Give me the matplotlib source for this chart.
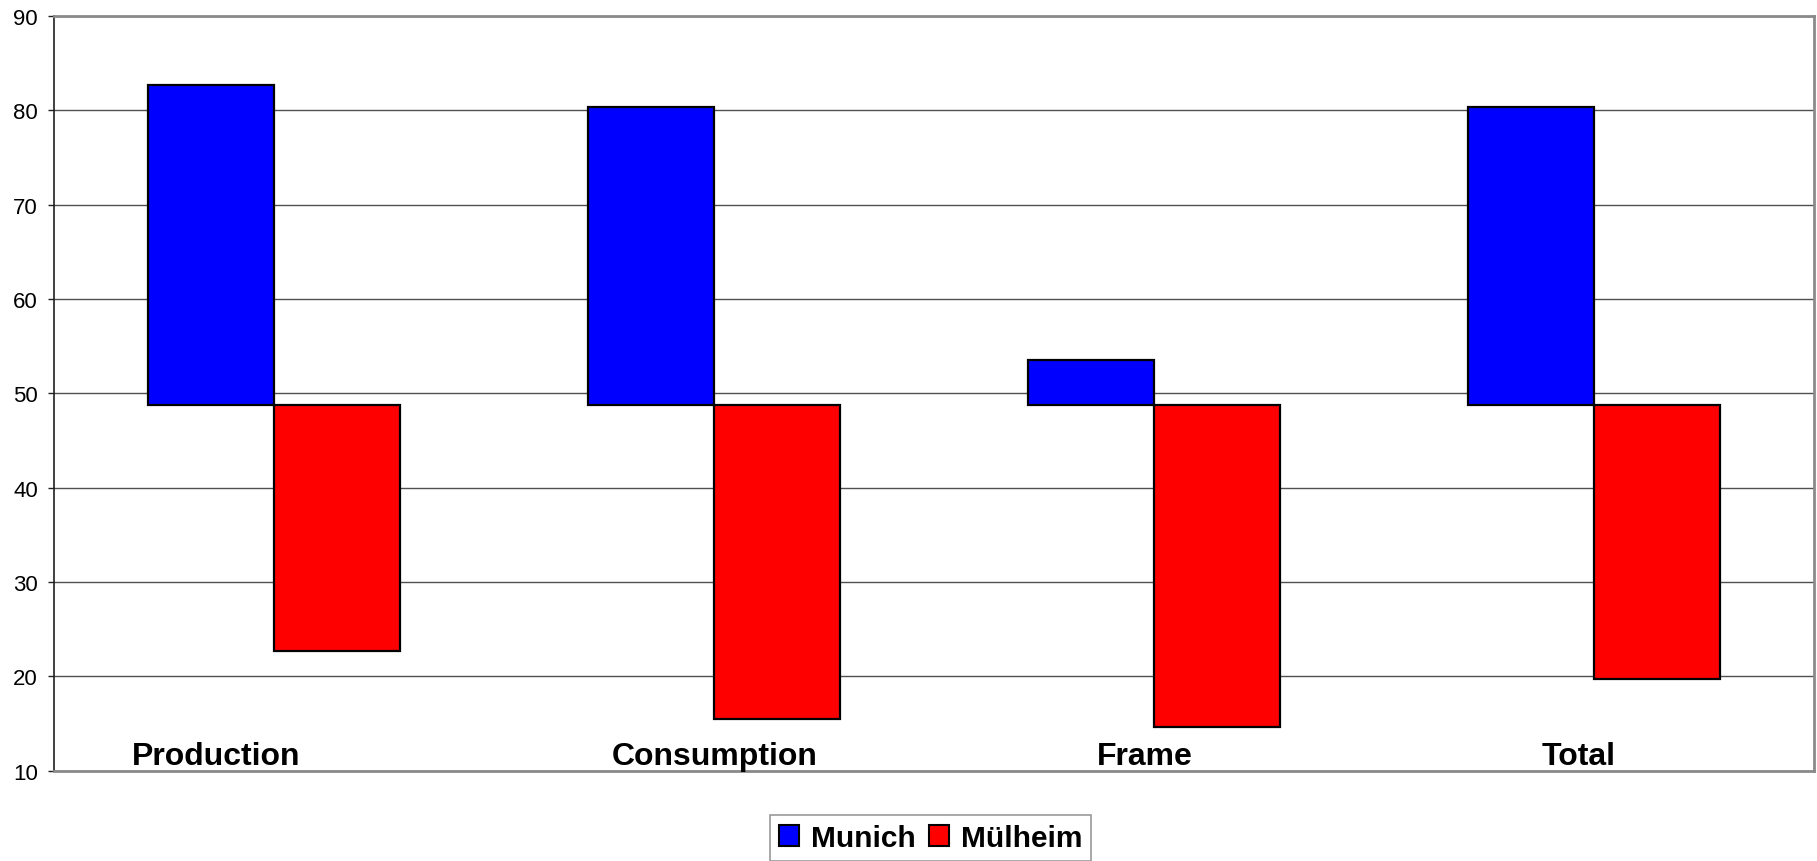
import matplotlib
matplotlib.use("Agg")
import matplotlib.pyplot as plt
import matplotlib.patches as patches
import numpy as np

categories = ["Production", "Consumption", "Frame", "Total"]
baseline = 48.8
munich = [82.7, 80.4, 53.5, 80.4]
muelheim = [22.7, 15.5, 14.6, 19.7]

# where the category names sit along x (in category units, relative to each slot)
label_shift = [-0.131, 0.001, -0.02, -0.036]

plt.rcParams['font.family'] = ['Liberation Sans', 'DejaVu Sans']

fig = plt.figure(figsize=(18.17, 8.62), dpi=100)
ax = fig.add_axes([0.0297, 0.1048, 0.9687, 0.8755])

x = np.arange(len(categories))
w = 1 / 3.5

ax.bar(x - w / 2, np.array(munich) - baseline, width=w, bottom=baseline,
       color="#0000FF", edgecolor="black", linewidth=1.6, zorder=3)
ax.bar(x + w / 2, np.array(muelheim) - baseline, width=w, bottom=baseline,
       color="#FF0000", edgecolor="black", linewidth=1.6, zorder=3)

ax.set_xlim(-0.5, 3.5)
ax.set_ylim(10, 90)
ax.set_yticks(range(10, 91, 10))
ax.set_xticks([])
ax.yaxis.grid(True, color="#505050", linewidth=1.0, zorder=0)
ax.set_axisbelow(True)

ax.tick_params(axis="y", direction="out", length=4.5, width=1.0, color="#202020",
               labelsize=16, pad=7)

for side in ["top", "right", "bottom"]:
    ax.spines[side].set_color("#8a8a8a")
    ax.spines[side].set_linewidth(2.0)
ax.spines["left"].set_color("#202020")
ax.spines["left"].set_linewidth(1.2)

for i, name in enumerate(categories):
    ax.text(i + label_shift[i], 10.7, name, ha="center", va="baseline",
            fontsize=23, fontweight="bold", zorder=4)

blue_patch = patches.Patch(facecolor="#0000FF", edgecolor="black", linewidth=1.5, label="Munich")
red_patch = patches.Patch(facecolor="#FF0000", edgecolor="black", linewidth=1.5, label="Mülheim")
leg = fig.legend(handles=[blue_patch, red_patch], loc="upper center",
                 bbox_to_anchor=(930.5 / 1817, 1 - 816 / 862), ncol=2,
                 prop={"size": 21.5, "weight": "bold"}, frameon=True, fancybox=False,
                 shadow=False, handlelength=0.67, handleheight=0.67,
                 handletextpad=0.4, columnspacing=0.45, borderpad=0.3,
                 borderaxespad=0)
leg.get_frame().set_edgecolor("#808080")
leg.get_frame().set_linewidth(1.2)

fig.savefig("out.png", dpi=100)
